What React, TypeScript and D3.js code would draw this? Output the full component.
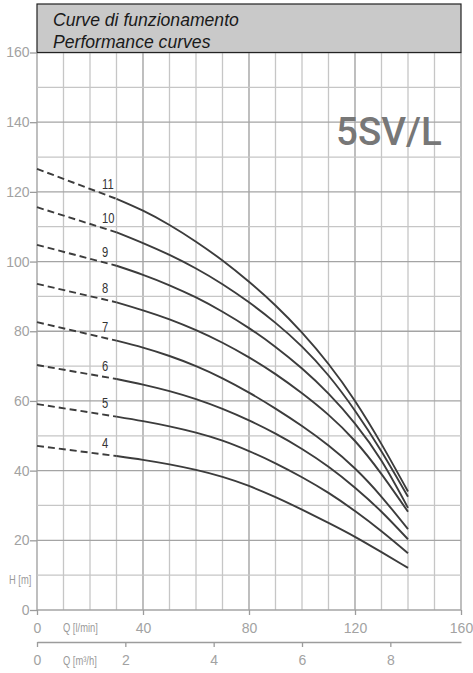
import React, { useRef, useEffect } from "react";
import * as d3 from "d3";

const WIDTH = 473;
const HEIGHT = 673;

// flow points of the solid part of each curve (l/min)
const flowLmin = [30, 40, 50, 60, 70, 80, 90, 100, 110, 120, 130, 140];

// head (m), one array per stage count
const head11 = [118, 114.6, 110.5, 105.7, 100.3, 94.2, 87.4, 79.6, 70.6, 60, 47.6, 34];
const head10 = [108.4, 105.3, 101.9, 98, 93.5, 88.3, 82.4, 75.6, 67.3, 57.2, 45.5, 32.5];
const head9 = [98.8, 96.2, 93.2, 89.7, 85.6, 80.9, 75.5, 69.3, 62.1, 53.5, 42.8, 29.3];
const head8 = [88.3, 86, 83.4, 80.3, 76.7, 72.5, 67.7, 62.2, 56, 48.5, 39, 28.2];
const head7 = [77.3, 75.3, 72.9, 70, 66.5, 62.4, 57.8, 52.8, 47.2, 40.6, 32.5, 23.2];
const head6 = [66.3, 64.7, 62.8, 60.5, 57.7, 54.4, 50.6, 46.2, 41.1, 35.1, 28.2, 20.3];
const head5 = [55.5, 54.2, 52.7, 50.9, 48.6, 45.6, 42.1, 38.1, 33.6, 28.4, 22.6, 16.3];
const head4 = [44.2, 43.1, 41.8, 40.2, 38.2, 35.6, 32.4, 28.8, 25, 21, 16.6, 12.1];

const stages = ["11", "10", "9", "8", "7", "6", "5", "4"];
// head at zero flow (start of the dashed part)
const shutoffHead = [126.6, 115.6, 104.8, 93.6, 82.6, 70.3, 59.1, 47.1];

const qTicks = [0, 40, 80, 120, 160];
const m3hTicks = [0, 2, 4, 6, 8];
const hTicks = [0, 20, 40, 60, 80, 100, 120, 140, 160];

const curves = [head11, head10, head9, head8, head7, head6, head5, head4].map((h, i) => ({
  label: stages[i],
  shutoff: shutoffHead[i],
  points: flowLmin.map((q, j) => [q, h[j]] as [number, number]),
}));

const sans = "'Liberation Sans', Arial, sans-serif";

const App = () => {
  const svgRef = useRef<SVGSVGElement>(null);

  useEffect(() => {
    const svg = d3.select(svgRef.current);
    svg.selectAll("*").remove();

    const x = d3.scaleLinear().domain([0, 160]).range([37, 461]);
    const y = d3.scaleLinear().domain([0, 160]).range([610, 52.5]);
    // second flow scale in m3/h (160 l/min = 9.6 m3/h)
    const xm = d3.scaleLinear().domain([0, 9.6]).range([37, 461]);

    // grid
    const grid = svg.append("g");
    d3.range(0, 161, 10).forEach((v) => {
      grid
        .append("line")
        .attr("x1", x(v))
        .attr("x2", x(v))
        .attr("y1", y(0))
        .attr("y2", y(160))
        .attr("stroke", v % 40 === 0 ? "#9c9c9c" : "#c6c6c6")
        .attr("stroke-width", 1.3);
    });
    d3.range(0, 161, 10).forEach((v) => {
      grid
        .append("line")
        .attr("x1", x(0))
        .attr("x2", x(160))
        .attr("y1", y(v))
        .attr("y2", y(v))
        .attr("stroke", v % 20 === 0 ? "#a4a4a4" : "#c6c6c6")
        .attr("stroke-width", 1.3);
    });

    // header box
    svg
      .append("rect")
      .attr("x", x(0))
      .attr("y", 4)
      .attr("width", x(160) - x(0))
      .attr("height", y(160) - 4)
      .attr("fill", "#c9c9c9")
      .attr("stroke", "#222")
      .attr("stroke-width", 1.2);
    ["Curve di funzionamento", "Performance curves"].forEach((t, i) => {
      svg
        .append("text")
        .attr("x", 53)
        .attr("y", 26 + i * 21.5)
        .attr("font-family", sans)
        .attr("font-style", "italic")
        .attr("font-size", 17.6)
        .attr("fill", "#1a1a1a")
        .text(t);
    });

    // model name
    svg
      .append("text")
      .attr("x", 336)
      .attr("y", 145)
      .attr("font-family", "Roboto, 'Liberation Sans', sans-serif")
      .attr("font-weight", 500)
      .attr("font-size", 38.5)
      .attr("fill", "#777")
      .text("5SV/L");

    // left axis
    const yAxis = svg
      .append("g")
      .attr("transform", `translate(${x(0)},0)`)
      .call(d3.axisLeft(y).tickValues(hTicks).tickSize(7).tickPadding(0.5));
    yAxis.select(".domain").remove();

    // bottom axis l/min
    const xAxis = svg
      .append("g")
      .attr("transform", `translate(0,${y(0)})`)
      .call(d3.axisBottom(x).tickValues(qTicks).tickSize(5).tickPadding(8.4));
    xAxis.select(".domain").remove();

    // bottom axis m3/h
    const mAxis = svg
      .append("g")
      .attr("transform", "translate(0,642)")
      .call(d3.axisBottom(xm).tickValues(m3hTicks).tickSize(5).tickSizeOuter(0).tickPadding(8));

    [yAxis, xAxis, mAxis].forEach((g) => {
      g.selectAll("line").attr("stroke", "#9c9c9c").attr("stroke-width", 1.3);
      g.selectAll(".domain").attr("stroke", "#9c9c9c").attr("stroke-width", 1.3);
      g.selectAll("text")
        .attr("fill", "#a2a2a2")
        .attr("font-size", 14)
        .attr("font-family", sans);
    });

    // unit labels (condensed look)
    const units = [
      { t: "Q [l/min]", x: 63, y: 632 },
      { t: "Q [m³/h]", x: 63, y: 665 },
      { t: "H [m]", x: 9, y: 584 },
    ];
    svg
      .selectAll(".unit")
      .data(units)
      .enter()
      .append("text")
      .attr("class", "unit")
      .attr("transform", (d) => `translate(${d.x},${d.y}) scale(0.78,1)`)
      .attr("font-family", sans)
      .attr("font-size", 12)
      .attr("fill", "#9a9a9a")
      .text((d) => d.t);

    // pump curves
    const line = d3
      .line<[number, number]>()
      .x((d) => x(d[0]))
      .y((d) => y(d[1]))
      .curve(d3.curveNatural);

    const cg = svg.append("g");
    curves.forEach((c) => {
      const first = c.points[0];
      cg.append("path")
        .attr("d", line([[0, c.shutoff], first]))
        .attr("fill", "none")
        .attr("stroke", "#3c3c3c")
        .attr("stroke-width", 1.9)
        .attr("stroke-dasharray", "7,4");
      cg.append("path")
        .attr("d", line(c.points))
        .attr("fill", "none")
        .attr("stroke", "#3c3c3c")
        .attr("stroke-width", 1.9);

      // label sits just above the dashed part near its end
      const hAt = c.shutoff + ((first[1] - c.shutoff) * 27) / 30;
      cg.append("text")
        .attr("transform", `translate(102,${y(hAt) - 7}) scale(0.8,1)`)
        .attr("font-family", sans)
        .attr("font-size", 14)
        .attr("fill", "#333")
        .text(c.label);
    });
  }, []);

  return (
    <svg
      ref={svgRef}
      width={WIDTH}
      height={HEIGHT}
      style={{ position: "absolute", left: 0, top: 0, background: "#fff" }}
    />
  );
};

export default App;
